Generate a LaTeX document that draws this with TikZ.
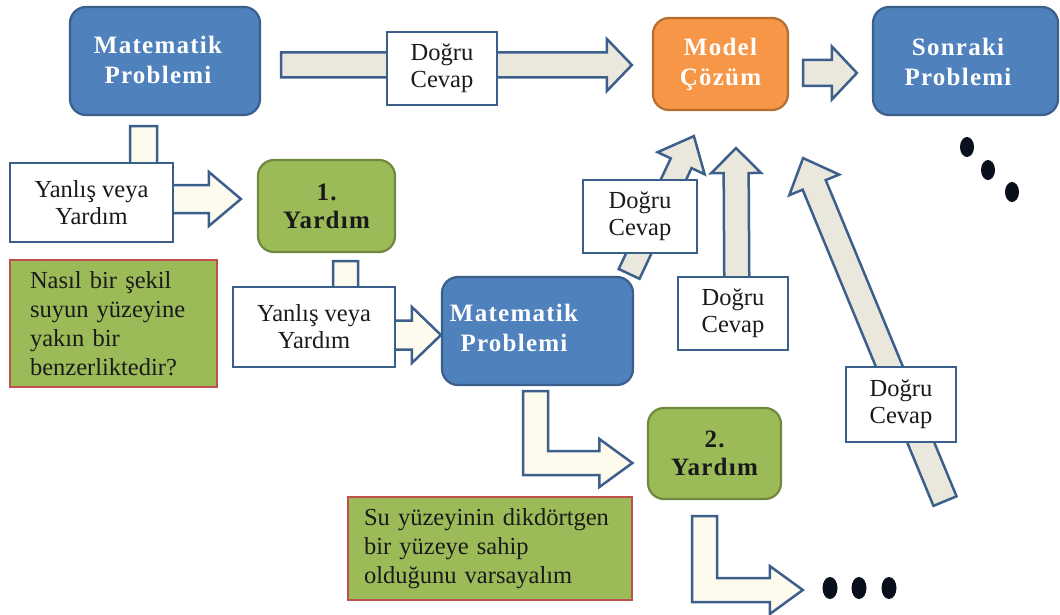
\documentclass[tikz,border=0pt]{standalone}
\usepackage{fontspec}
\setmainfont{Liberation Serif}
\newfontfamily\titlefont[LetterSpace=5]{Liberation Serif}
\usetikzlibrary{calc,backgrounds,shapes.geometric}

\definecolor{boxblue}{HTML}{4F81BD}
\definecolor{boxblueline}{HTML}{3A5F8B}
\definecolor{boxorange}{HTML}{F79646}
\definecolor{boxorangeline}{HTML}{B66D31}
\definecolor{boxgreen}{HTML}{9BBB59}
\definecolor{boxgreenline}{HTML}{71893F}
\definecolor{notered}{HTML}{C0504D}
\definecolor{arrowline}{HTML}{3D5F8C}
\definecolor{arrowgray}{HTML}{EAE7DC}
\definecolor{arrowcream}{HTML}{FDFAEE}
\definecolor{dotcol}{HTML}{0A0F1E}
\definecolor{inktext}{HTML}{1A1A1A}

\tikzset{
  titlebox/.style={rounded corners=16pt, line width=2.2pt, inner sep=0pt, align=center,
    font=\titlefont\bfseries\fontsize{25}{30}\selectfont},
  probbox/.style={titlebox, draw=boxblueline, fill=boxblue, text=white},
  modelbox/.style={titlebox, draw=boxorangeline, fill=boxorange, text=white},
  helpbox/.style={titlebox, draw=boxgreenline, fill=boxgreen, text=inktext,
    font=\titlefont\bfseries\fontsize{25}{28}\selectfont},
  answerbox/.style={draw=boxblueline, fill=white, line width=2.5pt, inner sep=0pt,
    align=center, text=inktext, font=\fontsize{24.5}{27}\selectfont},
  notebox/.style={draw=notered, fill=boxgreen, line width=2.5pt, inner sep=0pt,
    align=left, text=inktext, font=\fontsize{24.5}{29}\selectfont},
  straightarrow/.style={draw=arrowline, line width=2.5pt, line join=miter, fill=arrowgray},
  elbowarrow/.style={draw=arrowline, line width=2.5pt, line join=miter, fill=arrowcream},
  dotmark/.style={ellipse, fill=dotcol, inner sep=0pt, minimum width=14pt, minimum height=20pt},
}

% block arrow: [style] start, tip, shaft half-width, head half-width, head length
\newcommand\blockarr[6][]{%
  \coordinate (ba-h) at ($(#3)!#6!(#2)$);
  \draw[straightarrow,#1] ($(#2)!#4!90:(#3)$) -- ($(ba-h)!#4!90:(#3)$)
    -- ($(ba-h)!#5!90:(#3)$) -- (#3) -- ($(ba-h)!#5!-90:(#3)$)
    -- ($(ba-h)!#4!-90:(#3)$) -- ($(#2)!#4!-90:(#3)$) -- cycle;
}
% bent arrow, down then right: [style] top centre, tip, vertical half-width,
% horizontal half-width, head half-width, head length
\newcommand\elbowarr[7][]{%
  \draw[elbowarrow,#1] let \p1=(#2), \p2=(#3) in
    (\x1-#4,\y1) -- (\x1+#4,\y1) -- (\x1+#4,\y2+#5) -- (\x2-#7,\y2+#5)
    -- (\x2-#7,\y2+#6) -- (\x2,\y2) -- (\x2-#7,\y2-#6) -- (\x2-#7,\y2-#5)
    -- (\x1-#4,\y2-#5) -- cycle;
}

\begin{document}
\begin{tikzpicture}[x=1pt,y=-1pt]
\useasboundingbox (0,0) rectangle (1060,615);

% main boxes
\node[probbox, minimum width=190pt, minimum height=108pt] (mp1) at (165,61) {};
\node[probbox, draw=none, fill=none] (mp1text) at (158,60) {Matematik\\Problemi};
\node[modelbox, minimum width=135pt, minimum height=92pt] (model) at (720.5,64) {Model\\Çözüm};
\node[probbox, minimum width=185pt, minimum height=108pt] (next) at (965.5,61) {};
\node[probbox, draw=none, fill=none] (nexttext) at (958,62) {Sonraki\\Problemi};
\node[helpbox, minimum width=137pt, minimum height=92pt] (help1) at (326.5,206) {1.\\Yardım};
\node[probbox, minimum width=191pt, minimum height=108pt] (mp2) at (537.5,331) {};
\node[probbox, draw=none, fill=none] (mp2text) at (514,328) {Matematik\\Problemi};
\node[helpbox, minimum width=133pt, minimum height=91pt] (help2) at (714.5,453.5) {2.\\Yardım};

% hint boxes
\node[notebox, minimum width=207pt, minimum height=127pt, text width=167pt] (hint1) at (113.5,323.5)
  {Nasıl bir şekil\\suyun yüzeyine\\yakın bir\\benzerliktedir?};
\node[notebox, minimum width=284pt, minimum height=103pt, text width=252pt] (hint2) at (490,548.5)
  {Su yüzeyinin dikdörtgen\\bir yüzeye sahip\\olduğunu varsayalım};

% answer labels on the arrows
\node[answerbox, minimum width=110pt, minimum height=73pt] (ans1) at (442,68.5) {Doğru\\Cevap};
\node[answerbox, minimum width=163pt, minimum height=79pt] (wrong1) at (91.5,202.5) {Yanlış veya\\Yardım};
\node[answerbox, minimum width=162pt, minimum height=80pt] (wrong2) at (314,327) {Yanlış veya\\Yardım};
\node[answerbox, minimum width=114pt, minimum height=73pt] (ans2) at (640,216.5) {Doğru\\Cevap};
\node[answerbox, minimum width=110pt, minimum height=73pt] (ans3) at (733,313.5) {Doğru\\Cevap};
\node[answerbox, minimum width=110pt, minimum height=75pt] (ans4) at (901,404.5) {Doğru\\Cevap};

% continuation dots
\node[dotmark] (dd1) at (967,147) {};
\node[dotmark] (dd2) at (988,170) {};
\node[dotmark] (dd3) at (1012,192) {};
\node[dotmark, minimum width=15pt, minimum height=22pt] (hd1) at (830,588) {};
\node[dotmark, minimum width=15pt, minimum height=22pt] (hd2) at (859,588) {};
\node[dotmark, minimum width=15pt, minimum height=22pt] (hd3) at (889,588) {};

% arrow end points
\coordinate (a1s) at ($(mp1.east)+(20,4)$);
\coordinate (a1t) at ($(model.west)+(-20,1)$);
\coordinate (a2s) at ($(model.east)+(14,9)$);
\coordinate (a2t) at ($(next.west)+(-15,12)$);
\coordinate (w1s) at ($(mp1.south)+(-21.5,10)$);
\coordinate (w1t) at ($(help1.west)+(-16,-7)$);
\coordinate (w2s) at ($(help1.south)+(19,8)$);
\coordinate (w2t) at ($(mp2.west)+(0,4)$);
\coordinate (c1s) at ($(mp2.north east)+(-5,-2)$);
\coordinate (c1t) at ($(model.south west)+(42,25)$);
\coordinate (c2s) at ($(mp2.north east)+(103,57)$);
\coordinate (c2t) at ($(model.south)+(15.5,37)$);
\coordinate (c3s) at ($(next.south)+(-20.5,385)$);
\coordinate (c3t) at ($(model.south east)+(14,47)$);
\coordinate (h1s) at ($(mp2.south)+(-2,5)$);
\coordinate (h1t) at ($(help2.west)+(-14.5,9.5)$);
\coordinate (h2s) at ($(help2.south)+(-10,16)$);
\coordinate (h2t) at ($(hd1.west)+(-19.5,2)$);

\begin{pgfonlayer}{background}
  \blockarr{a1s}{a1t}{12.5pt}{26pt}{25pt}
  \blockarr{a2s}{a2t}{13pt}{26.5pt}{25pt}
  \elbowarr{w1s}{w1t}{13.5pt}{14pt}{27pt}{32pt}
  \elbowarr{w2s}{w2t}{12.5pt}{14.5pt}{28pt}{29pt}
  \blockarr{c1s}{c1t}{11.5pt}{26pt}{30pt}
  \blockarr{c2s}{c2t}{12.5pt}{25pt}{25pt}
  \blockarr{c3s}{c3t}{12.5pt}{27pt}{29pt}
  \elbowarr{h1s}{h1t}{12.5pt}{12pt}{24pt}{33pt}
  \elbowarr{h2s}{h2t}{12.5pt}{12pt}{24pt}{33pt}
\end{pgfonlayer}
\end{tikzpicture}
\end{document}
